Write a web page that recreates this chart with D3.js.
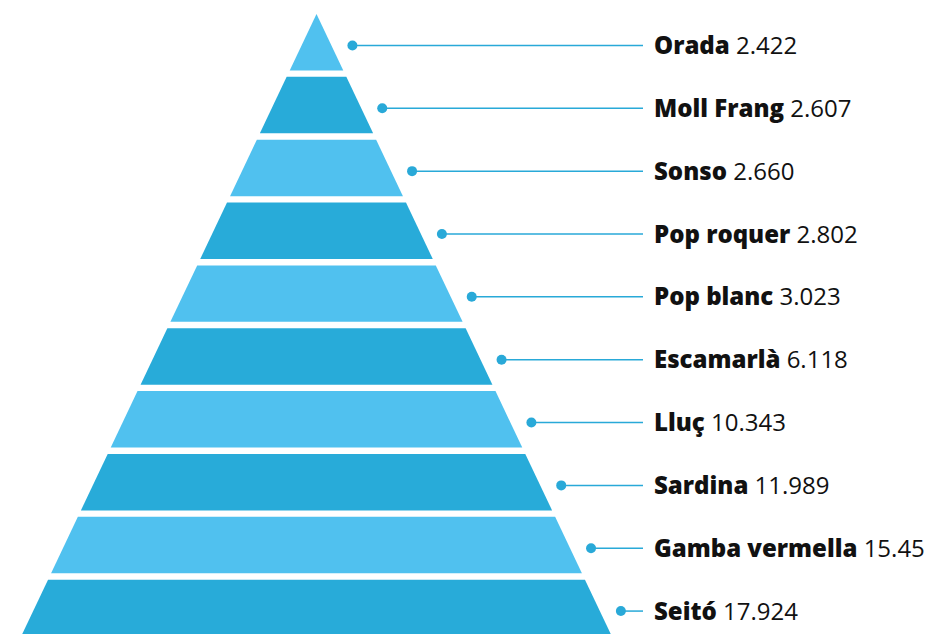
<!DOCTYPE html>
<html>
<head>
<meta charset="utf-8">
<script src="https://cdn.jsdelivr.net/npm/d3@7"></script>
<style>
  html, body { margin: 0; padding: 0; background: #fff; }
  svg { display: block; }
  text { font-family: "Open Sans", Lato, sans-serif; }
</style>
</head>
<body>
<svg id="chart" width="925" height="634"></svg>
<script>
// Species, top of the pyramid first
const species = ["Orada", "Moll Frang", "Sonso", "Pop roquer", "Pop blanc",
                 "Escamarlà", "Lluç", "Sardina", "Gamba vermella", "Seitó"];
// Value shown next to each species
const values = [2422, 2607, 2660, 2802, 3023, 6118, 10343, 11989, 15456, 17924];
const colors = ["#50c1ef", "#28abd9"];

const svg = d3.select("#chart");
const cx = 316.5;
const apexY = 14, step = 62.85, gap = 6.4;
const baseY = apexY + step * species.length;

// Catalan number format: "." as thousands separator
const fmt = d3.formatLocale({ decimal: ",", thousands: ".", grouping: [3], currency: ["", " €"] }).format(",d");

const y = d3.scaleBand()
  .domain(species)
  .range([apexY, baseY - gap])
  .paddingInner(gap / step)
  .paddingOuter(0);

// half-width of the pyramid at a given vertical position
const half = d3.scaleLinear().domain([apexY, 644]).range([0, 299]);

const rows = species.map((name, i) => ({ name, value: values[i], i }));

svg.append("g").selectAll("path")
  .data(rows)
  .join("path")
  .attr("fill", d => colors[d.i % 2])
  .attr("d", d => {
    const y0 = y(d.name), y1 = y0 + y.bandwidth();
    return d3.line()([
      [cx - half(y0), y0], [cx + half(y0), y0],
      [cx + half(y1), y1], [cx - half(y1), y1]
    ]) + "Z";
  });

const lineEnd = 643, textX = 654;
const midY = d => y(d.name) + y.step() / 2;
const dotX = d => cx + half(midY(d)) + 21;

const g = svg.append("g").selectAll("g")
  .data(rows)
  .join("g")
  .attr("transform", d => `translate(0,${midY(d)})`);

g.append("line")
  .attr("x1", dotX)
  .attr("x2", lineEnd)
  .attr("stroke", "#29a9d8")
  .attr("stroke-width", 1.5);

g.append("circle")
  .attr("cx", dotX)
  .attr("r", 5)
  .attr("fill", "#29a9d8");

const t = g.append("text")
  .attr("x", textX)
  .attr("dy", "0.36em")
  .attr("font-size", 24)
  .attr("fill", "#111");
t.append("tspan").attr("font-weight", 800).text(d => d.name + " ");
t.append("tspan").attr("font-weight", 400).text(d => fmt(d.value));
</script>
</body>
</html>
